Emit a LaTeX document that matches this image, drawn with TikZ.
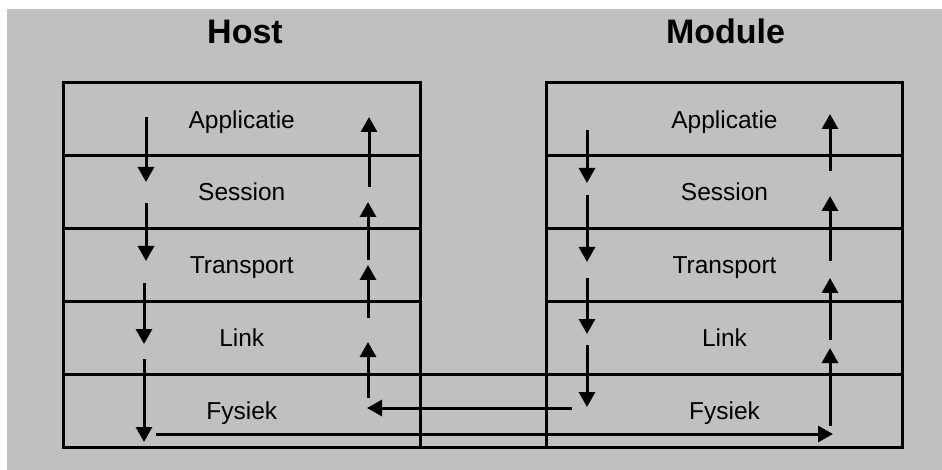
\documentclass[tikz,border=0pt]{standalone}
\usepackage{fontspec}
\setmainfont{Liberation Sans}
\usetikzlibrary{arrows.meta}
\definecolor{bggray}{HTML}{C0C0C0}
\begin{document}
\begin{tikzpicture}[x=1pt,y=-1pt,
  layer/.style={draw, line width=3pt, minimum width=356.5pt, minimum height=72.8pt,
    inner sep=0pt, outer sep=0pt, text height=17.5pt, text depth=0pt,
    font=\fontsize{24.5}{28}\selectfont},
  title/.style={anchor=base, inner sep=0pt, font=\fontsize{34}{40}\selectfont\bfseries},
  flow/.style={line width=3pt, -{Triangle[length=15pt,width=16pt]}},
  boxline/.style={line width=3pt}]
\useasboundingbox (0,0) rectangle (942,470);
\fill[bggray] (7,9) rectangle (942,470);

% titles
\node[title] (host) at (245,43.3) {Host};
\node[title] (module) at (725.5,43.3) {Module};

% host stack
\node[layer] (hA) at (241.75,119.4) {Applicatie};
\node[layer] (hS) at (241.75,192.2) {Session};
\node[layer] (hT) at (241.75,265.0) {Transport};
\node[layer] (hL) at (241.75,337.8) {Link};
\node[layer] (hF) at (241.75,410.6) {Fysiek};

% module stack
\node[layer] (mA) at (724.5,119.4) {Applicatie};
\node[layer] (mS) at (724.5,192.2) {Session};
\node[layer] (mT) at (724.5,265.0) {Transport};
\node[layer] (mL) at (724.5,337.8) {Link};
\node[layer] (mF) at (724.5,410.6) {Fysiek};

% physical row lines joining both stacks
\draw[boxline] (hF.north east) -- (mF.north west);
\draw[boxline] (hF.south east) -- (mF.south west);

% host: down column
\coordinate (hd1s) at (146,117); \coordinate (hd1e) at (146,182);
\coordinate (hd2s) at (146,203); \coordinate (hd2e) at (146,261);
\coordinate (hd3s) at (144,283); \coordinate (hd3e) at (144,344);
\coordinate (hd4s) at (144,359); \coordinate (hd4e) at (144,442);
% host: up column
\coordinate (hu1s) at (369,187); \coordinate (hu1e) at (369,117);
\coordinate (hu2s) at (368,260); \coordinate (hu2e) at (368,202);
\coordinate (hu3s) at (368,318); \coordinate (hu3e) at (368,265);
\coordinate (hu4s) at (368,398); \coordinate (hu4e) at (368,342);
% module: down column
\coordinate (md1s) at (587,130); \coordinate (md1e) at (587,183);
\coordinate (md2s) at (587,195); \coordinate (md2e) at (587,262);
\coordinate (md3s) at (587,278); \coordinate (md3e) at (587,334);
\coordinate (md4s) at (587,345); \coordinate (md4e) at (587,407);
% module: up column
\coordinate (mu1s) at (830,171); \coordinate (mu1e) at (830,114);
\coordinate (mu2s) at (830,261); \coordinate (mu2e) at (830,196);
\coordinate (mu3s) at (830,340); \coordinate (mu3e) at (830,278);
\coordinate (mu4s) at (830,426); \coordinate (mu4e) at (830,348);
% crossings
\coordinate (m2hs) at (572,408); \coordinate (m2he) at (367,408);
\coordinate (h2ms) at (156,434); \coordinate (h2me) at (833,434);

\foreach \a in {hd1,hd2,hd3,hd4,hu1,hu2,hu3,hu4,md1,md2,md3,md4,mu1,mu2,mu3,mu4,m2h,h2m}
  \draw[flow] (\a s) -- (\a e);
\end{tikzpicture}
\end{document}
